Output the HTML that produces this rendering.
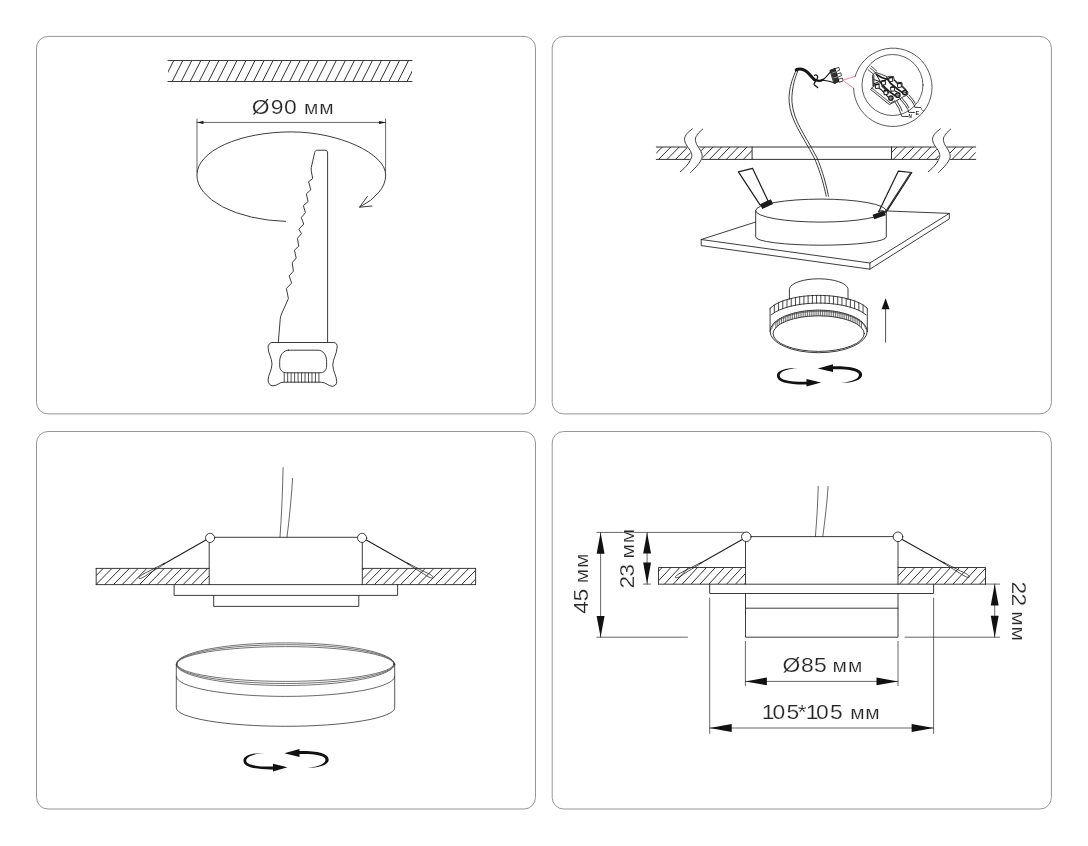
<!DOCTYPE html>
<html lang="ru">
<head>
<meta charset="utf-8">
<title>Схема монтажа светильника</title>
<style>
html,body{margin:0;padding:0;background:#fff}
body{width:1088px;height:846px;overflow:hidden}
svg{display:block;will-change:transform}
svg text{font-family:"Liberation Sans",sans-serif;fill:#262626}
.frame{fill:none;stroke:#8a8a8a;stroke-width:0.9}
.ln{fill:none;stroke:#262626;stroke-width:0.9;stroke-linecap:round;stroke-linejoin:round}
</style>
</head>
<body>
<svg width="1088" height="846" viewBox="0 0 1088 846">
<rect width="1088" height="846" fill="#fff"/>
<g class="frame">
<rect x="36.5" y="36.4" width="499" height="377.5" rx="11.5"/>
<rect x="552.2" y="36.4" width="499.2" height="377.5" rx="11.5"/>
<rect x="36.5" y="431.5" width="499" height="377.5" rx="11.5"/>
<rect x="552.2" y="431.5" width="499.2" height="377.5" rx="11.5"/>
</g>
<g class="ln" id="tl">
<path d="M168 60.5H412M168 81.5H412"/>
<clipPath id="h1"><rect x="168" y="60.5" width="244" height="21.0"/></clipPath>
<g clip-path="url(#h1)" stroke-width="0.95">
<path d="M163.17 81.5L173.77 60.5M172.20 81.5L182.80 60.5M181.23 81.5L191.83 60.5M190.26 81.5L200.86 60.5M199.29 81.5L209.89 60.5M208.32 81.5L218.92 60.5M217.35 81.5L227.95 60.5M226.38 81.5L236.98 60.5M235.41 81.5L246.01 60.5M244.44 81.5L255.04 60.5M253.47 81.5L264.07 60.5M262.50 81.5L273.10 60.5M271.53 81.5L282.13 60.5M280.56 81.5L291.16 60.5M289.59 81.5L300.19 60.5M298.62 81.5L309.22 60.5M307.65 81.5L318.25 60.5M316.68 81.5L327.28 60.5M325.71 81.5L336.31 60.5M334.74 81.5L345.34 60.5M343.77 81.5L354.37 60.5M352.80 81.5L363.40 60.5M361.83 81.5L372.43 60.5M370.86 81.5L381.46 60.5M379.89 81.5L390.49 60.5M388.92 81.5L399.52 60.5M397.95 81.5L408.55 60.5M406.98 81.5L417.58 60.5"/>
</g>
<path d="M197 119V172M385.6 119V171M197 122.4H385.6" stroke-width="0.7"/>
<path d="M197.00 122.40L203.50 120.90L203.50 123.90Z" fill="#111" stroke="none"/>
<path d="M385.60 122.40L379.10 123.90L379.10 120.90Z" fill="#111" stroke="none"/>
<path d="M285.6 221.4A94.4 46.5 0 0 1 196.9 175A94.4 43.1 0 0 1 291.3 131.9C338.5 131.9 385.7 153.5 385.7 175A94.4 46.5 0 0 1 359.6 207.2"/>
<path d="M367.3 196.5L359.6 207.2L372 206"/>
<path d="M327.6 342.5V153C327.6 151.2 326.8 150.2 325 150.2H317.5C315.8 150.2 315 151 314.7 152.5L311.3 167.4C310.8 171 312.2 175 312.7 178.6L308.6 181.7L310.8 189.8L306.3 193.9L308.1 201.5L303.4 205.6L305.4 212.7L301.3 217.6L303.7 224L298.8 229.3L301.5 233.5L297.4 238.3L298.8 246.1L294.4 250.2L296.2 258L292.2 262.8L293.4 271.2L289.2 275.9L291.6 283.1L286.4 288.5L288.4 298.6L281.5 314C280.6 316 280.3 317.6 280.2 319.5L278.3 342.5"/>
<path d="M272.5 342.5H333.5C336 342.5 337.3 344.3 337.2 347C336.8 354 332.8 359 332.8 365C332.8 371 336.7 376 336.7 381.5C336.7 384.5 334.8 386.3 332.3 386.3C328.5 386.3 326 382.2 321.1 382.2H283.6C279 382.2 277.5 385.8 273 385.8C270 385.8 268.1 383.5 268.1 380C268.1 375 272 370 272 364C272 358 268.2 354 268.1 347.5C268.1 344.3 269.8 342.5 272.5 342.5Z"/>
<path d="M288.5 350.2H318C323 350.2 326.6 355 326.6 361.5V366C326.6 370 324 372.8 320 372.8H286.5C282.5 372.8 279.7 370 279.7 366V361.5C279.7 355 283.5 350.2 288.5 350.2Z"/>
<path d="M284.20 373V382M287.67 373V382M291.14 373V382M294.61 373V382M298.08 373V382M301.55 373V382M305.02 373V382M308.49 373V382M311.96 373V382M315.43 373V382M318.90 373V382" stroke-width="0.8"/>
</g>
<text transform="translate(253.50 114.00) scale(1.1 1)" font-size="20.8" stroke="#fff" stroke-width="0.2"><tspan x="-1.51 15.77 27.72 36.82">Ø90 </tspan><tspan x="45.92 59.87" font-size="19.0">мм</tspan></text>
<g class="ln" id="tr">
<path d="M656.3 147H975.7M656.3 159.4H975.7M752.1 147V159.4M891.5 147V159.4" stroke-width="0.95"/>
<clipPath id="h2"><rect x="656.3" y="147" width="95.80000000000007" height="12.400000000000006"/></clipPath>
<g clip-path="url(#h2)" stroke-width="0.95">
<path d="M650.13 159.4L662.33 147M658.60 159.4L670.80 147M667.07 159.4L679.27 147M675.54 159.4L687.74 147M684.01 159.4L696.21 147M692.48 159.4L704.68 147M700.95 159.4L713.15 147M709.42 159.4L721.62 147M717.89 159.4L730.09 147M726.36 159.4L738.56 147M734.83 159.4L747.03 147M743.30 159.4L755.50 147M751.77 159.4L763.97 147"/>
</g>
<clipPath id="h3"><rect x="891.5" y="147" width="84.20000000000005" height="12.400000000000006"/></clipPath>
<g clip-path="url(#h3)" stroke-width="0.95">
<path d="M884.90 159.4L897.10 147M893.30 159.4L905.50 147M901.70 159.4L913.90 147M910.10 159.4L922.30 147M918.50 159.4L930.70 147M926.90 159.4L939.10 147M935.30 159.4L947.50 147M943.70 159.4L955.90 147M952.10 159.4L964.30 147M960.50 159.4L972.70 147M968.90 159.4L981.10 147"/>
</g>
<path d="M684.50 139.10C684.80 140.05 685.35 142.90 686.30 144.80C687.25 146.70 689.28 148.72 690.20 150.50C691.12 152.28 691.80 153.85 691.80 155.50C691.80 157.15 691.12 158.63 690.20 160.40C689.28 162.17 686.95 165.15 686.30 166.10L696.20 166.80C696.92 165.85 699.50 162.87 700.50 161.10C701.50 159.33 702.20 157.97 702.20 156.20C702.20 154.43 701.38 152.40 700.50 150.50C699.62 148.60 697.75 146.70 696.90 144.80C696.05 142.90 695.65 140.05 695.40 139.10Z" fill="#fff" stroke="#fff" stroke-width="1.2"/><path d="M692.30 128.90C691.42 129.67 688.30 131.80 687.00 133.50C685.70 135.20 684.62 137.22 684.50 139.10C684.38 140.98 685.35 142.90 686.30 144.80C687.25 146.70 689.28 148.72 690.20 150.50C691.12 152.28 691.80 153.85 691.80 155.50C691.80 157.15 691.12 158.63 690.20 160.40C689.28 162.17 687.97 164.20 686.30 166.10C684.63 168.00 681.22 170.85 680.20 171.80"/><path d="M702.60 129.20C701.77 130.03 698.80 132.55 697.60 134.20C696.40 135.85 695.52 137.33 695.40 139.10C695.28 140.87 696.05 142.90 696.90 144.80C697.75 146.70 699.62 148.60 700.50 150.50C701.38 152.40 702.20 154.43 702.20 156.20C702.20 157.97 701.50 159.33 700.50 161.10C699.50 162.87 697.87 164.90 696.20 166.80C694.53 168.70 691.45 171.55 690.50 172.50"/>
<path d="M932.50 139.10C932.80 140.05 933.35 142.90 934.30 144.80C935.25 146.70 937.28 148.72 938.20 150.50C939.12 152.28 939.80 153.85 939.80 155.50C939.80 157.15 939.12 158.63 938.20 160.40C937.28 162.17 934.95 165.15 934.30 166.10L944.20 166.80C944.92 165.85 947.50 162.87 948.50 161.10C949.50 159.33 950.20 157.97 950.20 156.20C950.20 154.43 949.38 152.40 948.50 150.50C947.62 148.60 945.75 146.70 944.90 144.80C944.05 142.90 943.65 140.05 943.40 139.10Z" fill="#fff" stroke="#fff" stroke-width="1.2"/><path d="M940.30 128.90C939.42 129.67 936.30 131.80 935.00 133.50C933.70 135.20 932.62 137.22 932.50 139.10C932.38 140.98 933.35 142.90 934.30 144.80C935.25 146.70 937.28 148.72 938.20 150.50C939.12 152.28 939.80 153.85 939.80 155.50C939.80 157.15 939.12 158.63 938.20 160.40C937.28 162.17 935.97 164.20 934.30 166.10C932.63 168.00 929.22 170.85 928.20 171.80"/><path d="M950.60 129.20C949.77 130.03 946.80 132.55 945.60 134.20C944.40 135.85 943.52 137.33 943.40 139.10C943.28 140.87 944.05 142.90 944.90 144.80C945.75 146.70 947.62 148.60 948.50 150.50C949.38 152.40 950.20 154.43 950.20 156.20C950.20 157.97 949.50 159.33 948.50 161.10C947.50 162.87 945.87 164.90 944.20 166.80C942.53 168.70 939.45 171.55 938.50 172.50"/>
<path d="M795.90 70.60C795.22 72.38 792.87 77.75 791.80 81.30C790.73 84.85 789.93 88.35 789.50 91.90C789.07 95.45 788.82 98.75 789.20 102.60C789.58 106.45 790.47 110.87 791.80 115.00C793.13 119.13 794.98 122.97 797.20 127.40C799.42 131.83 802.30 136.58 805.10 141.60C807.90 146.62 811.48 152.18 814.00 157.50C816.52 162.82 818.57 168.77 820.20 173.50C821.83 178.23 822.80 182.12 823.80 185.90C824.80 189.68 825.80 194.48 826.20 196.20"/><path d="M797.60 71.40C797.05 73.05 795.18 77.88 794.30 81.30C793.42 84.72 792.68 88.35 792.30 91.90C791.92 95.45 791.62 98.75 792.00 102.60C792.38 106.45 793.27 110.87 794.60 115.00C795.93 119.13 797.78 122.97 800.00 127.40C802.22 131.83 805.10 136.58 807.90 141.60C810.70 146.62 814.33 152.18 816.80 157.50C819.27 162.82 821.13 168.77 822.70 173.50C824.27 178.23 825.23 182.12 826.20 185.90C827.17 189.68 828.12 194.48 828.50 196.20"/>
<path d="M796.2 69.9C798.5 68.6 801.5 68.8 804.3 70.2C808.5 72.3 811 76.5 814.3 79.6" stroke="#151515" stroke-width="3"/>
<path d="M814.3 79.6C817 81.2 820.3 81.2 823 79.8" stroke="#151515" stroke-width="2.3"/>
<path d="M823 79.8C826 77.3 829 73.6 831.6 70.6M823.5 80.2C827 80.6 831.5 81.7 835.5 83" stroke="#151515" stroke-width="1.1"/>
<path d="M814.6 75.2C816.8 74 818.4 76.2 817.3 78.6C816.2 81 813.3 83.3 814.2 84.6C815 85.7 816.2 86.4 817.6 87.6" stroke="#151515" stroke-width="1.3"/>
<path d="M830.3 70.2L835.2 68.3L839 81.6L834.3 83.4Z" fill="#2e2e2e" stroke="#1c1c1c" stroke-width="0.9"/>
<path d="M835.3 68.5L838.8 67.3L839.6 70.3L836.2 71.5ZM837.1 74L840.7 72.8L841.5 75.7L838 76.9ZM838.7 79.2L842.3 78L843.1 80.9L839.6 82.1Z" fill="#fff" stroke="#1c1c1c" stroke-width="0.8"/>
<path d="M832.6 72.9L836.6 71.6M834 77.9L838.3 76.6" stroke="#ddd" stroke-width="0.6"/>
<path d="M855.1 76.5L842.7 80.2L853.6 88.3" stroke="#e4708c" stroke-width="0.8"/>
<path d="M855.1 76.5A39.2 39.2 0 1 1 853.6 88.3" stroke-width="0.75"/>
<circle cx="892.5" cy="85" r="30.5" stroke-width="0.75"/>
</g>
<g class="ln" id="term" stroke="#2a2a2a">
<path d="M871.20 66.08L876.67 71.02M868.08 69.72L873.80 74.41M869.90 67.64L875.11 72.32" stroke-width="0.8"/>
<path d="M872.76 74.93L875.37 72.32L881.61 74.41L887.85 77.01L888.89 76.23L893.58 76.49L894.10 79.61L897.22 82.21L901.90 82.73L902.42 85.85L905.54 88.97L907.88 92.36L907.62 94.70L902.42 97.30L895.14 101.46L889.41 104.58L870.68 89.49L872.76 86.89Z" fill="#fff" stroke-width="0.9"/>
<path d="M872.24 88.35L890.45 103.02L894.88 100.84" stroke-width="0.8"/>
<path d="M873.80 75.19L873.80 86.89M873.80 79.61L879.79 81.43L873.80 83.77M875.37 72.58L880.05 81.17" stroke-width="1" stroke="#222"/>
<path d="M879.79 81.43L883.17 85.85L888.89 91.06L895.14 95.74M886.81 78.05L890.45 83.25L896.70 88.45L902.42 92.62M876.41 74.41L881.61 77.53L887.85 79.61" stroke-width="1.7" stroke="#1e1e1e"/>
<path d="M874.32 84.81L881.61 90.01L888.37 97.30M881.61 85.85L888.89 93.14M894.10 80.13L897.74 83.77M901.90 86.37L905.54 90.01M895.14 91.06L899.30 93.14" stroke-width="1.1" stroke="#222"/>
<path d="M875.57 84.81L879.01 84.40L879.32 88.14L875.99 88.56Z" fill="#fff" stroke-width="1" stroke="#222"/>
<path d="M875.57 84.50L879.11 84.08" stroke-width="1.5" stroke="#1a1a1a"/>
<path d="M884.16 91.06L887.59 90.64L887.90 94.39L884.57 94.80Z" fill="#fff" stroke-width="1" stroke="#222"/>
<path d="M884.16 90.74L887.70 90.33" stroke-width="1.5" stroke="#1a1a1a"/>
<path d="M881.82 81.27L885.25 80.86L885.56 84.60L882.23 85.02Z" fill="#fff" stroke-width="1" stroke="#222"/>
<path d="M881.82 80.96L885.35 80.55" stroke-width="1.5" stroke="#1a1a1a"/>
<path d="M890.92 87.52L894.36 87.10L894.67 90.85L891.34 91.26Z" fill="#fff" stroke-width="1" stroke="#222"/>
<path d="M890.92 87.20L894.46 86.79" stroke-width="1.5" stroke="#1a1a1a"/>
<path d="M889.10 77.94L892.53 77.53L892.85 81.27L889.52 81.69Z" fill="#fff" stroke-width="1" stroke="#222"/>
<path d="M889.10 77.63L892.64 77.22" stroke-width="1.5" stroke="#1a1a1a"/>
<path d="M897.69 83.77L901.12 83.35L901.43 87.10L898.10 87.52Z" fill="#fff" stroke-width="1" stroke="#222"/>
<path d="M897.69 83.46L901.22 83.04" stroke-width="1.5" stroke="#1a1a1a"/>
<circle cx="890.87" cy="98.08" r="2.1" fill="#fff" stroke-width="1.5" stroke="#1e1e1e"/><circle cx="890.87" cy="98.08" r="0.7" stroke-width="0.6"/>
<circle cx="897.84" cy="95.22" r="2.1" fill="#fff" stroke-width="1.5" stroke="#1e1e1e"/><circle cx="897.84" cy="95.22" r="0.7" stroke-width="0.6"/>
<circle cx="904.76" cy="92.62" r="2.1" fill="#fff" stroke-width="1.5" stroke="#1e1e1e"/><circle cx="904.76" cy="92.62" r="0.7" stroke-width="0.6"/>
</g>
<g class="ln" id="leads" stroke-width="0.75">
<path d="M894.91 101.98L898.82 108.43L900.67 113.50L901.82 116.36L908.04 116.50M896.75 100.83L900.21 106.59L902.05 110.97M900.21 99.22L905.28 105.21L908.04 109.82L908.73 112.35L914.49 112.58M902.05 98.29L906.66 103.82L908.96 107.97M907.12 95.99L911.73 101.06L914.03 104.75L914.72 107.28L920.48 107.51M908.96 95.07L913.11 99.91L915.18 103.36"/>
</g>
<text x="908.4" y="118.3" font-size="4.6" font-weight="bold">N</text>
<text x="915.4" y="115" font-size="5.4" font-weight="bold">E</text>
<text x="920.6" y="110.8" font-size="5.6" transform="rotate(-28 922.3 108.4)">L</text>
<g class="ln" id="tr2">
<path d="M755.7 222L701.2 239.5L869.9 263L949.3 213.4L888 211M701.2 239.5V245.6L869.9 269.2L949.3 218.9V213.4M869.9 263V269.2"/>
<ellipse cx="821" cy="210.6" rx="65.3" ry="11.5" fill="#fff"/>
<path d="M755.7 210.6V237A65.3 8.2 0 0 0 886.3 237V210.6"/>
<path d="M738.4 171.8L752.5 168.3L768.2 201.3L760.2 205.2Z" stroke-width="1.2" stroke="#1c1c1c"/>
<path d="M898.4 171.1L911.8 172.5L886.6 211.6L878.6 212Z" stroke-width="1.2" stroke="#1c1c1c"/>
<path d="M910.6 172.8L885.6 211.6" stroke-width="1.1" stroke="#333"/>
<path d="M761.2 206.6L772 201.6" stroke="#1a1a1a" stroke-width="5.2" stroke-linecap="butt"/>
<path d="M873.4 217L885 213" stroke="#1a1a1a" stroke-width="5" stroke-linecap="butt"/>
<path d="M878 211.5C880.5 209.5 884 210 885.6 212.6" stroke-width="0.7"/>
<path d="M789.4 299.3V288.7A29.4 10.8 0 0 1 848 288.7V299.6"/>
<path d="M770.10 308.29L774.15 305.08L778.20 302.86L782.25 301.14L786.30 299.76L790.35 298.63L794.40 297.72L798.45 296.98L802.50 296.40L806.55 295.95L810.60 295.64L814.65 295.46L818.70 295.40L822.75 295.46L826.80 295.64L830.85 295.95L834.90 296.40L838.95 296.98L843.00 297.72L847.05 298.63L851.10 299.76L855.15 301.14L859.20 302.86L863.25 305.08L867.30 308.29" stroke-width="0.9"/>
<path d="M771.40 314.79L775.34 312.06L779.28 310.06L783.23 308.48L787.17 307.20L791.11 306.15L795.05 305.29L798.99 304.59L802.93 304.04L806.88 303.62L810.82 303.33L814.76 303.16L818.70 303.10L822.64 303.16L826.58 303.33L830.53 303.62L834.47 304.04L838.41 304.59L842.35 305.29L846.29 306.15L850.23 307.20L854.18 308.48L858.12 310.06L862.06 312.06L866.00 314.79" stroke-width="0.9"/>
<path d="M770.1 308.3V331.5M867.3 308.3V331.5"/>
<ellipse cx="818.7" cy="331.4" rx="48.6" ry="21.3" stroke-width="0.9"/>
<ellipse cx="818.7" cy="333.6" rx="45.6" ry="17.8" stroke-width="0.9"/>
<path d="M771.6 329A47.2 19 0 0 1 865.8 329" stroke-width="0.6"/>
<path d="M774.33 304.97V312.67M778.55 302.69V310.39M782.78 300.94V308.64M787.00 299.54V307.24M791.23 298.42V306.12M795.46 297.51V305.21M799.68 296.79V304.49M803.91 296.23V303.93M808.13 295.82V303.52M812.36 295.55V303.25M816.59 295.42V303.12M820.81 295.42V303.12M825.04 295.55V303.25M829.27 295.82V303.52M833.49 296.23V303.93M837.72 296.79V304.49M841.94 297.51V305.21M846.17 298.42V306.12M850.40 299.54V307.24M854.62 300.94V308.64M858.85 302.69V310.39M863.07 304.97V312.67" stroke-width="0.85"/>
<path d="M775.92 321.29V327.44M777.78 319.91V325.75M779.64 318.73V324.41M781.50 317.69V323.31M783.36 316.78V322.35M785.22 315.96V321.52M787.08 315.22V320.77M788.94 314.56V320.11M790.80 313.96V319.52M792.66 313.42V318.99M794.52 312.92V318.51M796.38 312.48V318.08M798.24 312.08V317.69M800.10 311.72V317.35M801.96 311.40V317.04M803.82 311.12V316.77M805.68 310.88V316.54M807.54 310.67V316.34M809.40 310.49V316.17M811.26 310.35V316.04M813.12 310.24V315.93M814.98 310.16V315.86M816.84 310.12V315.81M818.70 310.10V315.80M820.56 310.12V315.81M822.42 310.16V315.86M824.28 310.24V315.93M826.14 310.35V316.04M828.00 310.49V316.17M829.86 310.67V316.34M831.72 310.88V316.54M833.58 311.12V316.77M835.44 311.40V317.04M837.30 311.72V317.35M839.16 312.08V317.69M841.02 312.48V318.08M842.88 312.92V318.51M844.74 313.42V318.99M846.60 313.96V319.52M848.46 314.56V320.11M850.32 315.22V320.77M852.18 315.96V321.52M854.04 316.78V322.35M855.90 317.69V323.31M857.76 318.73V324.41M859.62 319.91V325.75M861.48 321.29V327.44" stroke-width="0.75" stroke="#444"/>
<path d="M885.6 342.2V305" stroke-width="0.8"/>
</g>
<path d="M885.60 298.20L889.60 309.20L881.60 309.20Z" fill="#111" stroke="none"/>
<path d="M797.80 368.10C786.50 367.80 776.90 370.40 776.90 375.70C776.90 381.90 787.50 384.70 806.50 384.50L806.50 386.60L821.00 382.40L806.50 378.90L806.50 381.70C789.50 381.90 779.70 379.90 779.70 375.70C779.70 371.60 787.50 368.80 797.80 368.10ZM840.80 383.00C852.50 383.00 862.20 380.00 862.20 374.80C862.20 368.60 851.50 366.10 833.00 366.20L833.00 364.20L817.80 368.40L833.00 372.00L833.00 369.20C849.50 369.00 859.00 371.00 859.00 374.80C859.00 379.00 851.50 382.00 840.80 383.00Z" fill="#111" stroke="none"/>
<g class="ln" id="bl">
<path d="M96.2 568.4H209.2M362.3 568.4H475.6M96.2 584.6H475.6M96.2 568.4V584.6M475.6 568.4V584.6"/>
<clipPath id="h4a"><rect x="96.2" y="568.4" width="112.99999999999999" height="16.200000000000045"/></clipPath>
<g clip-path="url(#h4a)" stroke-width="0.95">
<path d="M87.29 584.6L103.29 568.4M96.00 584.6L112.00 568.4M104.71 584.6L120.71 568.4M113.42 584.6L129.42 568.4M122.13 584.6L138.13 568.4M130.84 584.6L146.84 568.4M139.55 584.6L155.55 568.4M148.26 584.6L164.26 568.4M156.97 584.6L172.97 568.4M165.68 584.6L181.68 568.4M174.39 584.6L190.39 568.4M183.10 584.6L199.10 568.4M191.81 584.6L207.81 568.4M200.52 584.6L216.52 568.4M209.23 584.6L225.23 568.4"/>
</g>
<clipPath id="h4b"><rect x="362.3" y="568.4" width="113.30000000000001" height="16.200000000000045"/></clipPath>
<g clip-path="url(#h4b)" stroke-width="0.95">
<path d="M348.28 584.6L364.28 568.4M356.99 584.6L372.99 568.4M365.70 584.6L381.70 568.4M374.41 584.6L390.41 568.4M383.12 584.6L399.12 568.4M391.83 584.6L407.83 568.4M400.54 584.6L416.54 568.4M409.25 584.6L425.25 568.4M417.96 584.6L433.96 568.4M426.67 584.6L442.67 568.4M435.38 584.6L451.38 568.4M444.09 584.6L460.09 568.4M452.80 584.6L468.80 568.4M461.51 584.6L477.51 568.4M470.22 584.6L486.22 568.4"/>
</g>
<path d="M209.2 537.3V584.6M362.3 537.3V584.6M209.2 537.3H362.3"/>
<path d="M174.1 584.6V595.4H397.6V584.6M213.7 595.4V606.4H358.8V595.4"/>
<circle cx="210.1" cy="537.9" r="4.6" fill="#fff" stroke-width="0.85"/><circle cx="362.1" cy="537.9" r="4.6" fill="#fff" stroke-width="0.85"/>
<path d="M205.90 540.10L162.95 564.48" stroke-width="1.15" stroke="#222"/><path d="M164.84 563.75L148.66 573.74C144.61 576.73 140.31 579.28 138.96 578.33C137.70 577.32 142.11 574.35 147.57 571.83L164.54 563.23" stroke-width="0.8"/>
<path d="M366.30 540.10L409.02 564.23" stroke-width="1.15" stroke="#222"/><path d="M407.43 562.98L424.31 571.72C428.96 573.66 433.37 576.03 433.24 577.68C433.02 579.28 428.21 577.02 423.23 573.64L407.13 563.51" stroke-width="0.8"/>
<path d="M283.1 467.7C282.6 491 281.6 515 280 537.2M292.6 478.3C291.4 498 289.4 518 287 537.2" stroke-width="0.7"/>
<ellipse cx="285.5" cy="664.2" rx="109.2" ry="21.3" stroke-width="0.65"/>
<ellipse cx="285.5" cy="664.1" rx="108.8" ry="19.4" stroke-width="0.65"/>
<ellipse cx="285.5" cy="664" rx="108.4" ry="17.4" stroke-width="0.65"/>
<path d="M176.3 664.2V707.7A109.2 18.6 0 0 0 394.7 707.7V664.2" stroke-width="0.75"/>
<path d="M176.3 676.6A109.2 19.8 0 0 0 394.7 676.6" stroke-width="0.7"/>
</g>
<path d="M264.30 753.00C253.00 752.70 243.40 755.30 243.40 760.60C243.40 766.80 254.00 769.60 273.00 769.40L273.00 771.50L287.50 767.30L273.00 763.80L273.00 766.60C256.00 766.80 246.20 764.80 246.20 760.60C246.20 756.50 254.00 753.70 264.30 753.00ZM307.30 767.90C319.00 767.90 328.70 764.90 328.70 759.70C328.70 753.50 318.00 751.00 299.50 751.10L299.50 749.10L284.30 753.30L299.50 756.90L299.50 754.10C316.00 753.90 325.50 755.90 325.50 759.70C325.50 763.90 318.00 766.90 307.30 767.90Z" fill="#111" stroke="none"/>
<g class="ln" id="br">
<path d="M658.5 584.2V567.5H745.5M898 567.5H985.5V584.2M658.5 584.2H985.5"/>
<clipPath id="h5a"><rect x="658.5" y="567.5" width="87.0" height="16.700000000000045"/></clipPath>
<g clip-path="url(#h5a)" stroke-width="0.95">
<path d="M646.50 584.2L662.00 567.5M655.40 584.2L670.90 567.5M664.30 584.2L679.80 567.5M673.20 584.2L688.70 567.5M682.10 584.2L697.60 567.5M691.00 584.2L706.50 567.5M699.90 584.2L715.40 567.5M708.80 584.2L724.30 567.5M717.70 584.2L733.20 567.5M726.60 584.2L742.10 567.5M735.50 584.2L751.00 567.5M744.40 584.2L759.90 567.5"/>
</g>
<clipPath id="h5b"><rect x="898" y="567.5" width="87.5" height="16.700000000000045"/></clipPath>
<g clip-path="url(#h5b)" stroke-width="0.95">
<path d="M890.60 584.2L906.10 567.5M899.50 584.2L915.00 567.5M908.40 584.2L923.90 567.5M917.30 584.2L932.80 567.5M926.20 584.2L941.70 567.5M935.10 584.2L950.60 567.5M944.00 584.2L959.50 567.5M952.90 584.2L968.40 567.5M961.80 584.2L977.30 567.5M970.70 584.2L986.20 567.5M979.60 584.2L995.10 567.5"/>
</g>
<path d="M745.5 584.2V536.6H898V584.2M709.7 584.2V593.5H933.6V584.2M745.5 593.5V637.2H898V593.5M745.5 608.2H898"/>
<circle cx="746.3" cy="536.8" r="4.8" fill="#fff"/><circle cx="898" cy="536.8" r="4.8" fill="#fff"/>
<path d="M742.20 539.40L699.52 563.73" stroke-width="1.15" stroke="#222"/><path d="M701.41 563.00L685.25 573.02C681.20 576.02 676.91 578.58 675.56 577.63C674.30 576.62 678.70 573.65 684.16 571.11L701.11 562.48" stroke-width="0.8"/>
<path d="M902.20 539.40L945.00 563.47" stroke-width="1.15" stroke="#222"/><path d="M943.40 562.23L960.30 570.94C964.95 572.86 969.36 575.23 969.24 576.88C969.02 578.48 964.21 576.23 959.22 572.85L943.11 562.75" stroke-width="0.8"/>
<path d="M818.2 486.5C817.8 503 816.8 520 815.4 536.5M828.1 486.5C827 503 825 520 822.8 536.5" stroke-width="0.7"/>
<g stroke-width="0.7">
<path d="M596.9 532.4H744.3M596.9 637.2H687.5M600.6 532.4V637.2M647.1 532.4V584.1M643.4 584.1H650.5"/>
<path d="M905 637.2H999.7M985.5 584.1H999.7M994.7 584.1V637.2"/>
<path d="M709.7 598.2V733.5M933.6 598.2V733.5M745.4 641.4V685.7M898 641.4V685.7M745.4 681.4H898M709.7 728H933.6"/>
</g>
</g>
<path d="M600.60 532.40L604.55 553.70L596.65 553.70Z" fill="#111" stroke="none"/>
<path d="M600.60 637.20L596.65 615.90L604.55 615.90Z" fill="#111" stroke="none"/>
<path d="M647.10 532.40L651.05 553.40L643.15 553.40Z" fill="#111" stroke="none"/>
<path d="M647.10 584.10L643.15 562.60L651.05 562.60Z" fill="#111" stroke="none"/>
<path d="M994.70 584.10L998.65 605.60L990.75 605.60Z" fill="#111" stroke="none"/>
<path d="M994.70 637.20L990.75 615.70L998.65 615.70Z" fill="#111" stroke="none"/>
<path d="M745.40 681.40L766.90 677.45L766.90 685.35Z" fill="#111" stroke="none"/>
<path d="M898.00 681.40L876.50 685.35L876.50 677.45Z" fill="#111" stroke="none"/>
<path d="M709.70 728.00L731.70 724.05L731.70 731.95Z" fill="#111" stroke="none"/>
<path d="M933.60 728.00L911.60 731.95L911.60 724.05Z" fill="#111" stroke="none"/>
<text transform="translate(784.00 672.10) scale(1.1 1)" font-size="20.8" stroke="#fff" stroke-width="0.2"><tspan x="-1.42 15.44 27.33 35.76">Ø85 </tspan><tspan x="44.19 58.15" font-size="19.0">мм</tspan></text>
<text transform="translate(764.30 718.60) scale(1.1 1)" font-size="20.8" stroke="#fff" stroke-width="0.2"><tspan x="-2.24 7.49 20.28 30.40 37.76 46.94 59.78 68.94">105*105 </tspan><tspan x="78.10 91.87" font-size="19.0">мм</tspan></text>
<text transform="translate(587.70 613.60) rotate(-90) scale(1.1 1)" font-size="20.8" stroke="#fff" stroke-width="0.2"><tspan x="-0.13 11.05 19.33">45 </tspan><tspan x="27.60 41.37" font-size="19.0">мм</tspan></text>
<text transform="translate(634.20 586.70) rotate(-90) scale(1.1 1)" font-size="20.8" stroke="#fff" stroke-width="0.2"><tspan x="-1.56 8.96 17.28">23 </tspan><tspan x="25.60 39.46" font-size="19.0">мм</tspan></text>
<text transform="translate(1011.90 582.80) rotate(90) scale(1.1 1)" font-size="20.8" stroke="#fff" stroke-width="0.2"><tspan x="-1.28 9.67 17.77">22 </tspan><tspan x="25.87 39.74" font-size="19.0">мм</tspan></text>
</svg>
</body>
</html>
